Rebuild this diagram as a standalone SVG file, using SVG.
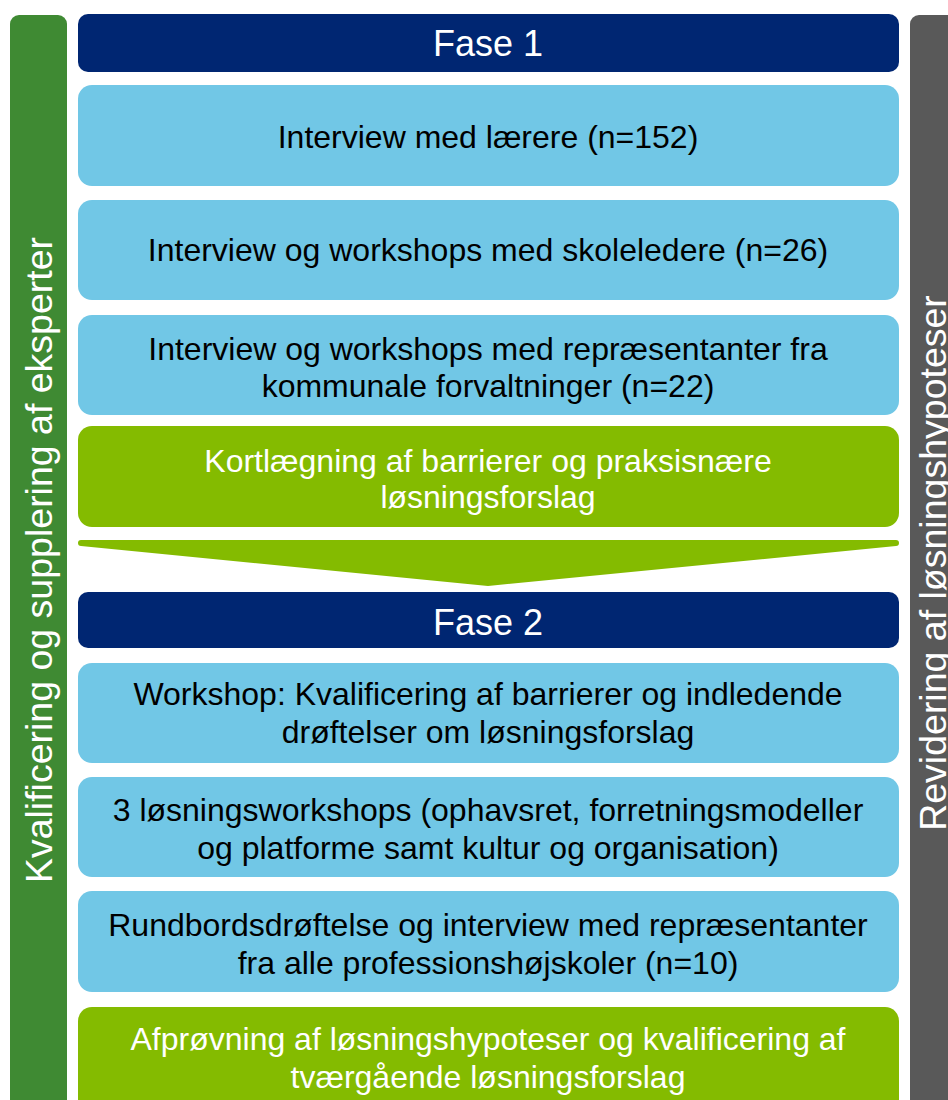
<svg xmlns="http://www.w3.org/2000/svg" width="948" height="1100" viewBox="0 0 948 1100">
<style>
.t{font-family:"Liberation Sans",Arial,sans-serif;text-anchor:middle;}
.b{font-size:32px;}
.h{font-size:36px;}
.v{font-size:37.5px;}
.hd{fill:#002672;}
.lb{fill:#71c7e6;}
.gr{fill:#84bb00;}
.wt{fill:#ffffff;}
.bk{fill:#000000;}
</style>
<rect width="948" height="1100" fill="#ffffff"/>
<g id="side-left">
<rect x="10" y="15" width="57" height="1100" rx="9" fill="#3f8a33"/>
<text class="t wt v" transform="translate(52,560) rotate(-90)">Kvalificering og supplering af eksperter</text>
</g>
<g id="side-right">
<rect x="910" y="15" width="60" height="1100" rx="9" fill="#595959"/>
<text class="t wt v" transform="translate(946,563) rotate(-90)">Revidering af løsningshypoteser</text>
</g>
<g id="fase1">
<rect x="78" y="14" width="821" height="58" rx="10" class="hd"/>
<text class="t wt h" x="488" y="56">Fase 1</text>
</g>
<g id="n1">
<rect x="78" y="85" width="821" height="101" rx="14" class="lb"/>
<text class="t bk b" x="488" y="148">Interview med lærere (n=152)</text>
</g>
<g id="n2">
<rect x="78" y="200" width="821" height="100" rx="14" class="lb"/>
<text class="t bk b" x="488" y="261">Interview og workshops med skoleledere (n=26)</text>
</g>
<g id="n3">
<rect x="78" y="315" width="821" height="100" rx="14" class="lb"/>
<text class="t bk b" x="488" y="360">Interview og workshops med repræsentanter fra</text>
<text class="t bk b" x="488" y="397">kommunale forvaltninger (n=22)</text>
</g>
<g id="n4">
<rect x="78" y="426" width="821" height="101" rx="14" class="gr"/>
<text class="t wt b" x="488" y="472">Kortlægning af barrierer og praksisnære</text>
<text class="t wt b" x="488" y="508">løsningsforslag</text>
</g>
<g id="connectors">
<path d="M81,540 L896,540 A3,3 0 0 1 896,546 L488,586 L81,546 A3,3 0 0 1 81,540 Z" class="gr"/>
</g>
<g id="fase2">
<rect x="78" y="592" width="821" height="56" rx="10" class="hd"/>
<text class="t wt h" x="488" y="635">Fase 2</text>
</g>
<g id="n5">
<rect x="78" y="663" width="821" height="100" rx="14" class="lb"/>
<text class="t bk b" x="488" y="705">Workshop: Kvalificering af barrierer og indledende</text>
<text class="t bk b" x="488" y="743">drøftelser om løsningsforslag</text>
</g>
<g id="n6">
<rect x="78" y="777" width="821" height="100" rx="14" class="lb"/>
<text class="t bk b" x="488" y="821">3 løsningsworkshops (ophavsret, forretningsmodeller</text>
<text class="t bk b" x="488" y="859">og platforme samt kultur og organisation)</text>
</g>
<g id="n7">
<rect x="78" y="891" width="821" height="101" rx="14" class="lb"/>
<text class="t bk b" x="488" y="936">Rundbordsdrøftelse og interview med repræsentanter</text>
<text class="t bk b" x="488" y="974">fra alle professionshøjskoler (n=10)</text>
</g>
<g id="n8">
<rect x="78" y="1007" width="821" height="120" rx="14" class="gr"/>
<text class="t wt b" x="488" y="1050">Afprøvning af løsningshypoteser og kvalificering af</text>
<text class="t wt b" x="488" y="1088">tværgående løsningsforslag</text>
</g>
</svg>
